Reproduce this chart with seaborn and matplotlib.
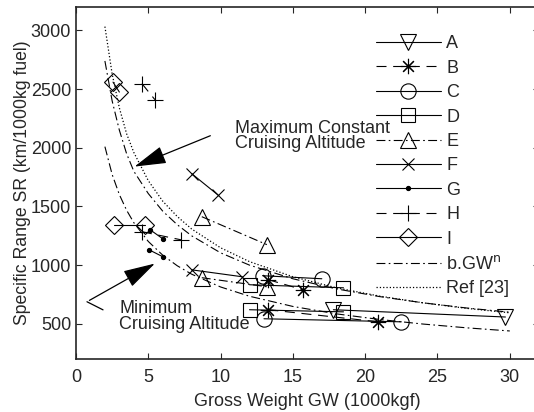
import matplotlib
matplotlib.use("Agg")
import matplotlib.pyplot as plt
import seaborn as sb

# measured points, two segments per aircraft (max / min cruising altitude)
series = ["A", "B", "C", "D", "E", "F", "G", "H", "I"]
gw = {
    "A": [[17.8, 29.7]],
    "B": [[13.3, 15.7], [13.3, 20.9]],
    "C": [[12.9, 17.0], [13.0, 22.5]],
    "D": [[12.0, 18.5], [12.0, 18.5]],
    "E": [[8.7, 13.2], [8.7, 13.2]],
    "F": [[8.0, 9.8], [8.0, 11.5]],
    "G": [[5.12, 6.0], [5.05, 6.0]],
    "H": [[4.56, 5.46], [4.56, 7.26]],
    "I": [[2.56, 3.0], [2.63, 4.77]],
}
sr = {
    "A": [[620, 558]],
    "B": [[876, 790], [620, 517]],
    "C": [[910, 884], [543, 517]],
    "D": [[833, 807], [620, 602]],
    "E": [[1413, 1175], [893, 816]],
    "F": [[1780, 1600], [960, 901]],
    "G": [[1302, 1225], [1131, 1072]],
    "H": [[2547, 2410], [1285, 1216]],
    "I": [[2560, 2475], [1345, 1345]],
}

# curves
curve_gw = [2, 2.5, 3, 3.5, 4, 5, 6, 7, 8, 10, 12, 15, 18, 21, 24, 27, 30]
fit_max = [2740, 2400, 2150, 1950, 1800, 1610, 1460, 1345, 1250, 1105, 1000, 884, 798, 732, 679, 635, 599]
fit_min = [2010, 1773, 1601, 1468, 1362, 1202, 1085, 995, 923, 814, 735, 648, 585, 537, 498, 466, 439]
ref23 = [3033, 2630, 2340, 2120, 1960, 1720, 1545, 1415, 1308, 1148, 1030, 901, 807, 736, 679, 632, 594]

dashed = (0, (9, 6))
dashdot = (0, (8, 3, 1.5, 3))
style = {
    "A": dict(marker="v", linestyle="-", markersize=11),
    "B": dict(marker=(8, 2, 0), linestyle=dashed, markersize=11),
    "C": dict(marker="o", linestyle="-", markersize=11),
    "D": dict(marker="s", linestyle="-", markersize=10),
    "E": dict(marker="^", linestyle=dashdot, markersize=11),
    "F": dict(marker="x", linestyle="-", markersize=8),
    "G": dict(marker=".", linestyle="-", markersize=6),
    "H": dict(marker="+", linestyle=dashed, markersize=11),
    "I": dict(marker="D", linestyle="-", markersize=9),
}

sb.set_style("ticks")
plt.rcParams["font.family"] = ["Liberation Sans", "DejaVu Sans"]
plt.rcParams["xtick.direction"] = "in"
plt.rcParams["ytick.direction"] = "in"

fig = plt.figure(figsize=(5.34, 4.12), dpi=100)
ax = fig.add_axes([0.1423, 0.1286, 0.8665, 0.8544])

for s in series:
    st = dict(style[s])
    for xs, ys in zip(gw[s], sr[s]):
        sb.lineplot(x=xs, y=ys, ax=ax, color="black", linewidth=0.8,
                    sort=False, estimator=None,
                    markerfacecolor="black" if s == "G" else "none",
                    markeredgecolor="black", markeredgewidth=0.8, **st)

sb.lineplot(x=curve_gw, y=fit_max, ax=ax, color="black", linewidth=0.8,
            linestyle=dashdot, sort=False, estimator=None)
sb.lineplot(x=curve_gw, y=fit_min, ax=ax, color="black", linewidth=0.8,
            linestyle=dashdot, sort=False, estimator=None)
sb.lineplot(x=curve_gw, y=ref23, ax=ax, color="black", linewidth=0.9,
            linestyle=":", sort=False, estimator=None)

# legend handles
handles = []
for s in series:
    h, = ax.plot([], [], color="black", linewidth=0.8,
                 markerfacecolor="black" if s == "G" else "none",
                 markeredgecolor="black", markeredgewidth=0.8, **style[s])
    handles.append(h)
hb, = ax.plot([], [], color="black", linewidth=0.8, linestyle=dashdot)
hr, = ax.plot([], [], color="black", linewidth=0.9, linestyle=":")
handles += [hb, hr]
labels = series + [r"b.GW$^\mathrm{n}$", "Ref [23]"]
ax.legend(handles, labels, loc="upper left", bbox_to_anchor=(0.628, 0.945),
          frameon=False, fontsize=13, handlelength=3.6, handletextpad=0.3,
          labelspacing=0.41, numpoints=1, borderpad=0)

arrow = dict(arrowstyle="-|>,head_length=1.0,head_width=0.28",
             color="black", lw=0.9, mutation_scale=20)
ax.annotate("", xy=(3.87, 1831), xytext=(9.47, 2112), arrowprops=arrow)
ax.text(11.0, 2100, "Maximum Constant\nCruising Altitude", fontsize=13,
        va="center", ha="left", linespacing=0.9)

ax.plot([1.87, 0.76], [619, 688], color="black", linewidth=0.9)
ax.annotate("", xy=(5.62, 1025), xytext=(0.76, 688), arrowprops=arrow)
ax.text(3.0, 564, "Minimum\nCruising Altitude", fontsize=13,
        va="center", ha="left", linespacing=0.9)

ax.set_xlim(0, 32)
ax.set_ylim(200, 3200)
ax.set_xticks([0, 5, 10, 15, 20, 25, 30])
ax.set_yticks([500, 1000, 1500, 2000, 2500, 3000])
ax.tick_params(labelsize=13, top=True, right=True, length=4, width=0.8)
ax.tick_params(axis="x", pad=7)
for sp in ax.spines.values():
    sp.set_visible(True)
    sp.set_linewidth(1.2)
ax.set_xlabel("Gross Weight GW (1000kgf)", fontsize=13, labelpad=5)
ax.set_ylabel("Specific Range SR (km/1000kg fuel)", fontsize=12.7, labelpad=0)

fig.savefig("out.png", dpi=100)
